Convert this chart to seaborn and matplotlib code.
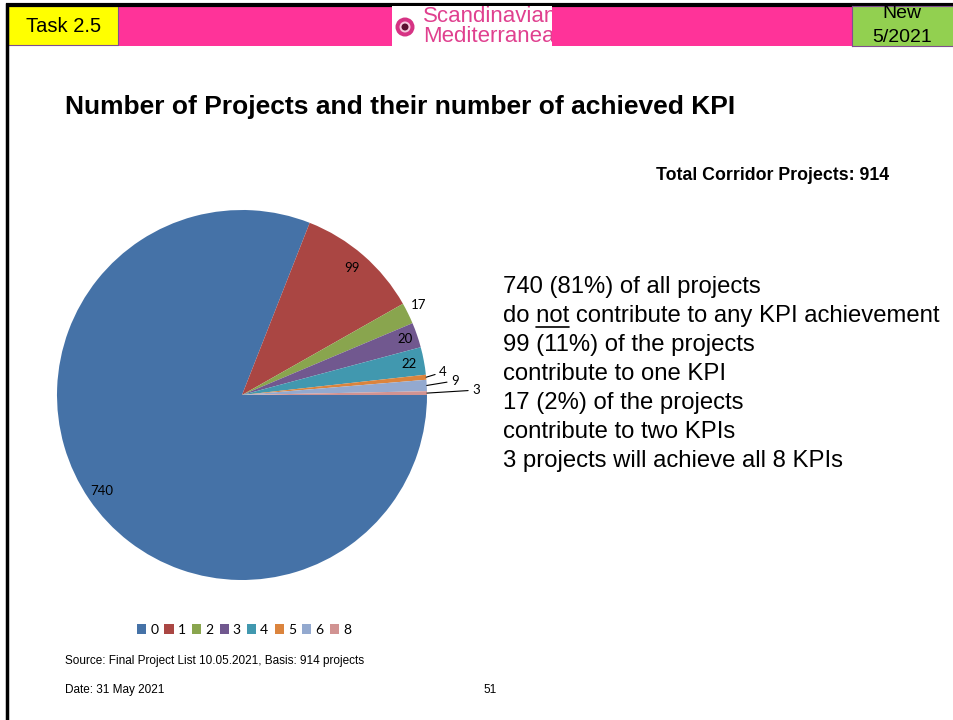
import numpy as np
import matplotlib
matplotlib.use("Agg")
import matplotlib.pyplot as plt
import seaborn as sns
from matplotlib.patches import Rectangle, Circle

# data
kpi_groups = ["0", "1", "2", "3", "4", "5", "6", "8"]
project_counts = [740, 99, 17, 20, 22, 4, 9, 3]
slice_colors = ["#4572A7", "#AA4643", "#89A54E", "#71588F",
                "#4198AF", "#DB843D", "#93A9CF", "#D19392"]

title = "Number of Projects and their number of achieved KPI"
total_text = "Total Corridor Projects: 914"
summary_lines = [
    "740 (81%) of all projects",
    "do not contribute to any KPI achievement",
    "99 (11%) of the projects",
    "contribute to one KPI",
    "17 (2%) of the projects",
    "contribute to two KPIs",
    "3 projects will achieve all 8 KPIs",
]
source_text = "Source: Final Project List 10.05.2021, Basis: 914 projects"
date_text = "Date: 31 May 2021"
page_no = "51"

sns.set_theme(style="white")
plt.rcParams["font.family"] = ["Liberation Sans", "DejaVu Sans"]
plt.rcParams["text.color"] = "black"

W, H = 954, 720
fig = plt.figure(figsize=(W / 100, H / 100), dpi=100)
fig.patch.set_facecolor("white")

# background axes in pixel coordinates
bg = fig.add_axes([0, 0, 1, 1])
bg.set_xlim(0, W)
bg.set_ylim(H, 0)
bg.axis("off")

# header band
bg.add_patch(Rectangle((7, 5), W - 7, 41, facecolor="#FF3399", edgecolor="none"))
bg.add_patch(Rectangle((8, 6), 110, 39, facecolor="#FFFF00", edgecolor="#7F4F8F", lw=0.8))
bg.text(64, 26, "Task 2.5", ha="center", va="center", fontsize=14.5, color="black")

# logo box
logo = fig.add_axes([392 / W, 1 - 46 / H, 160 / W, 40 / H])
logo.set_xlim(0, 160)
logo.set_ylim(40, 0)
logo.set_facecolor("white")
for s in logo.spines.values():
    s.set_visible(False)
logo.set_xticks([])
logo.set_yticks([])
logo.add_patch(Circle((13, 21), 9.5, facecolor="#D63384", edgecolor="none"))
logo.add_patch(Circle((13, 21), 5.5, facecolor="#F6C9DE", edgecolor="none"))
logo.add_patch(Circle((13, 21), 3.5, facecolor="#5A1030", edgecolor="none"))
logo.text(31, 11, "Scandinavian", fontsize=16, color="#E0408F", va="center",
          ha="left", clip_on=True)
logo.text(31, 30, "Mediterranean", fontsize=16, color="#E0408F", va="center",
          ha="left", clip_on=True)

# green "New" box
newbox = fig.add_axes([852 / W, 1 - 46 / H, (W - 852) / W, 40 / H])
newbox.set_xlim(0, W - 852)
newbox.set_ylim(40, 0)
newbox.set_facecolor("#92D050")
for s in newbox.spines.values():
    s.set_color("#7F4F8F")
    s.set_linewidth(0.8)
newbox.set_xticks([])
newbox.set_yticks([])
newbox.text(50, 7, "New", ha="center", va="center", fontsize=14, clip_on=True)
newbox.text(50, 31, "5/2021", ha="center", va="center", fontsize=14, clip_on=True)

# slide borders
bg.plot([6, W], [4.5, 4.5], color="black", lw=3, solid_capstyle="butt")
bg.plot([7.5, 7.5], [3, H], color="black", lw=2.5, solid_capstyle="butt")

# titles and text
bg.text(65, 107, title, fontsize=19, fontweight="bold", va="center", ha="left")
bg.text(889, 175, total_text, fontsize=12.8, fontweight="bold", va="center", ha="right")
txt_size = 17.2
for i, line in enumerate(summary_lines):
    bg.text(503, 287 + i * 29, line, fontsize=txt_size, va="center", ha="left")

# underline "not" in the second line, measured from the rendered text
renderer = fig.canvas.get_renderer()
def text_px(s):
    t = bg.text(0, 0, s, fontsize=txt_size)
    w = t.get_window_extent(renderer).width
    t.remove()
    return w
x_not_end = 503 + text_px("do not")
x_not_start = x_not_end - text_px("not")
bg.plot([x_not_start, x_not_end], [327, 327], color="black", lw=1.2)

bg.text(65, 661, source_text, fontsize=8.5, va="center", ha="left")
bg.text(65, 690, date_text, fontsize=8.5, va="center", ha="left")
bg.text(490, 690, page_no, fontsize=8.5, va="center", ha="center")

# pie chart
R = 185
cx, cy = 242, 395
pax = fig.add_axes([(cx - R) / W, (H - cy - R) / H, 2 * R / W, 2 * R / H])
wedges, _ = pax.pie(project_counts, colors=slice_colors, startangle=0,
                    counterclock=False, radius=1.0,
                    wedgeprops=dict(linewidth=0))
pax.set_xlim(-1, 1)
pax.set_ylim(-1, 1)
pax.set_aspect("auto")
pax.axis("off")

# label placement: (radius factor, angle in degrees or None for slice middle, leader line)
label_place = [
    (0.92, None, False),
    (0.91, None, False),
    (1.07, 27.0, False),
    (0.93, None, False),
    (0.92, None, False),
    (1.093, 6.5, True),
    (1.153, 3.8, True),
    (1.265, 1.2, True),
]
lab_font = ["Lato", "DejaVu Sans"]
for w, val, (rf, ang, leader) in zip(wedges, project_counts, label_place):
    mid = np.deg2rad((w.theta1 + w.theta2) / 2)
    a = mid if ang is None else np.deg2rad(ang)
    tx, ty = rf * np.cos(a), rf * np.sin(a)
    if leader:
        pax.annotate(str(val), xy=(np.cos(mid), np.sin(mid)), xytext=(tx, ty),
                     ha="center", va="center", fontsize=9.5, family=lab_font,
                     annotation_clip=False,
                     arrowprops=dict(arrowstyle="-", color="black", lw=0.8,
                                     shrinkA=0.5, shrinkB=0))
    else:
        pax.text(tx, ty, str(val), ha="center", va="center", fontsize=9.5,
                 family=lab_font, clip_on=False)

# legend
handles = [Rectangle((0, 0), 1, 1, facecolor=c, edgecolor="none") for c in slice_colors]
fig.legend(handles, kpi_groups, loc="center", bbox_to_anchor=(244 / W, 1 - 630 / H),
           ncol=len(kpi_groups), frameon=False, handlelength=0.65, handleheight=0.65,
           handletextpad=0.3, columnspacing=0.45, prop={"family": lab_font, "size": 10})

fig.savefig("out.png", dpi=100, facecolor="white")
